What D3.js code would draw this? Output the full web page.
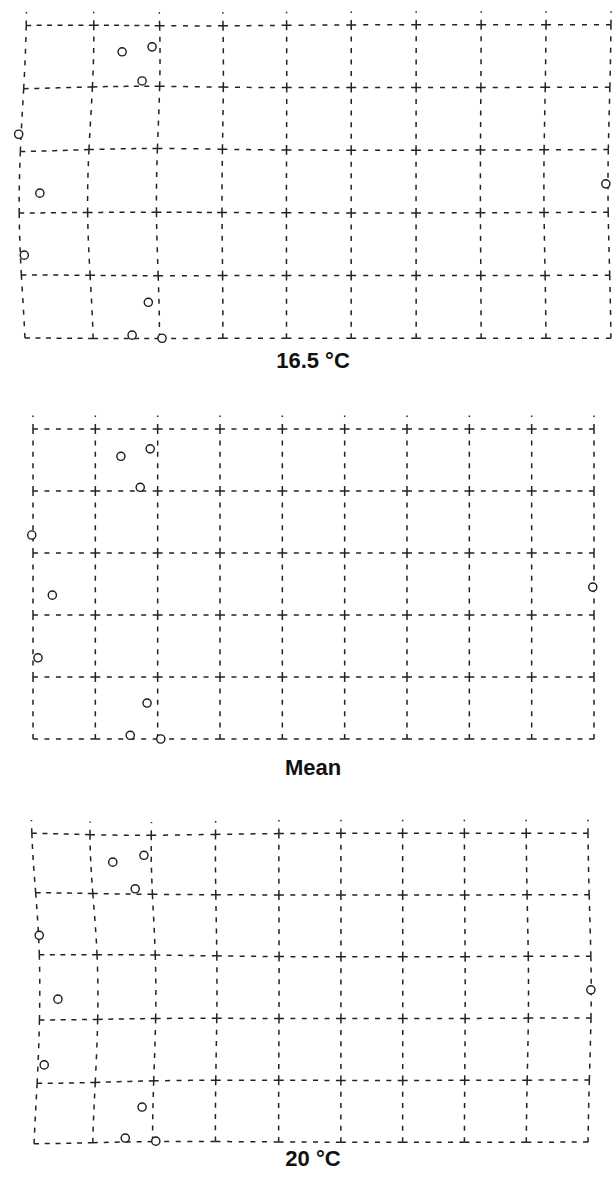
<!DOCTYPE html>
<html>
<head>
<meta charset="utf-8">
<script src="https://cdn.jsdelivr.net/npm/d3@7/dist/d3.min.js"></script>
<style>
  body { margin: 0; background: #fff; }
</style>
</head>
<body>
<script>
// Size of the page
var width = 613;
var height = 1177;

// Landmarks, in grid units of the mean shape (u across, v down)
var meanX = [1.41, 1.88, 1.72, -0.02, 0.31, 0.08, 1.83, 1.56, 2.05, 8.98];
var meanY = [0.44, 0.32, 0.94, 1.71, 2.68, 3.69, 4.42, 4.94, 5.00, 2.55];

var coldX = [1.43, 1.91, 1.75, -0.23, 0.11, -0.14, 1.85, 1.59, 2.07, 9.19];
var coldY = [0.40, 0.32, 0.87, 1.73, 2.68, 3.68, 4.44, 4.97, 5.02, 2.53];

var warmX = [1.28, 1.78, 1.64, 0.10, 0.40, 0.18, 1.75, 1.48, 1.97, 8.95];
var warmY = [0.47, 0.36, 0.90, 1.65, 2.68, 3.74, 4.42, 4.92, 4.97, 2.53];

// Grid lines of the mean shape
var gridX = [0, 1, 2, 3, 4, 5, 6, 7, 8, 9];
var gridY = [0, 1, 2, 3, 4, 5];

var panelLabels = ["16.5 \u00B0C", "Mean", "20 \u00B0C"];
var panelX = [coldX, meanX, warmX];
var panelY = [coldY, meanY, warmY];

// layout
var panelTop = [27, 429, 833];
var labelY = [368, 775, 1166];

var svg = d3.select("body")
  .append("svg")
  .attr("width", width)
  .attr("height", height);

var x = d3.scaleLinear().domain([0, 9]).range([33, 594]);

function solve(A, b) {
  var n = b.length;
  A = A.map(function(r) { return r.slice(); });
  b = b.slice();
  for (var c = 0; c < n; c++) {
    var p = c;
    for (var r = c + 1; r < n; r++) if (Math.abs(A[r][c]) > Math.abs(A[p][c])) p = r;
    var t = A[c]; A[c] = A[p]; A[p] = t;
    var tb = b[c]; b[c] = b[p]; b[p] = tb;
    for (var r = c + 1; r < n; r++) {
      var f = A[r][c] / A[c][c];
      for (var k = c; k < n; k++) A[r][k] -= f * A[c][k];
      b[r] -= f * b[c];
    }
  }
  var out = new Array(n);
  for (var r = n - 1; r >= 0; r--) {
    var s = b[r];
    for (var k = r + 1; k < n; k++) s -= A[r][k] * out[k];
    out[r] = s / A[r][r];
  }
  return out;
}

// straight line fit of target against source
function fit1d(s, t) {
  var ms = d3.mean(s), mt = d3.mean(t);
  var num = d3.sum(s, function(d, i) { return (d - ms) * (t[i] - mt); });
  var den = d3.sum(s, function(d) { return (d - ms) * (d - ms); });
  var b = num / den;
  return [mt - b * ms, b];
}

// warp of the mean grid onto a landmark set:
// scale and shift on each axis plus a smooth local gaussian correction
var sigma = 1.2;
var ridge = 0.25;
function kernel(du, dv) {
  return Math.exp(-(du * du + dv * dv) / (2 * sigma * sigma));
}

function makeWarp(sx, sy, tx, ty) {
  var n = sx.length;
  var fu = fit1d(sx, tx), fv = fit1d(sy, ty);
  function base(u, v) {
    return [fu[0] + fu[1] * u, fv[0] + fv[1] * v];
  }
  var K = [], rx = [], ry = [];
  for (var i = 0; i < n; i++) {
    K.push([]);
    for (var j = 0; j < n; j++) K[i].push(kernel(sx[i] - sx[j], sy[i] - sy[j]) + (i === j ? ridge : 0));
    var f = base(sx[i], sy[i]);
    rx.push(tx[i] - f[0]);
    ry.push(ty[i] - f[1]);
  }
  var wx = solve(K, rx), wy = solve(K, ry);
  return function(u, v) {
    var f = base(u, v);
    for (var i = 0; i < n; i++) {
      var k = kernel(u - sx[i], v - sy[i]);
      f[0] += wx[i] * k;
      f[1] += wy[i] * k;
    }
    return f;
  };
}

var line = d3.line();
var ink = "#222";

panelLabels.forEach(function(label, p) {
  var y = d3.scaleLinear().domain([0, 5]).range([panelTop[p], panelTop[p] + 310]);
  var warp = makeWarp(meanX, meanY, panelX[p], panelY[p]);
  var g = svg.append("g");

  function edge(u0, v0, u1, v1) {
    var pts = d3.range(0, 1.0001, 1 / 10).map(function(t) {
      var w = warp(u0 + (u1 - u0) * t, v0 + (v1 - v0) * t);
      return [x(w[0]), y(w[1])];
    });
    return line(pts);
  }

  var edges = [];
  gridY.forEach(function(v) {
    for (var i = 0; i < gridX.length - 1; i++) edges.push(edge(gridX[i], v, gridX[i + 1], v));
  });
  gridX.forEach(function(u) {
    for (var j = 0; j < gridY.length - 1; j++) edges.push(edge(u, gridY[j], u, gridY[j + 1]));
  });

  g.selectAll(".edge")
    .data(edges)
    .enter()
    .append("path")
    .attr("class", "edge")
    .attr("d", function(d) { return d; })
    .attr("fill", "none")
    .attr("stroke", ink)
    .attr("stroke-width", 1.5)
    .attr("stroke-dasharray", function() {
      // start and end every edge on a dash so the nodes show a cross
      var L = this.getTotalLength();
      var dash = 5;
      var n = Math.max(1, Math.round((L - dash) / 11));
      return dash + "," + ((L - dash) / n - dash);
    });

  // short stubs above the top row
  g.selectAll(".stub")
    .data(gridX)
    .enter()
    .append("path")
    .attr("class", "stub")
    .attr("d", function(u) { return edge(u, 0, u, -0.22); })
    .attr("fill", "none")
    .attr("stroke", ink)
    .attr("stroke-width", 1.5)
    .attr("stroke-dasharray", "5,7,1.5,20");

  // landmarks
  g.selectAll(".mark")
    .data(panelX[p])
    .enter()
    .append("circle")
    .attr("class", "mark")
    .attr("cx", function(d) { return x(d); })
    .attr("cy", function(d, i) { return y(panelY[p][i]); })
    .attr("r", 4.1)
    .attr("fill", "#fff")
    .attr("stroke", "#1a1a1a")
    .attr("stroke-width", 1.4);

  svg.append("text")
    .attr("x", 313)
    .attr("y", labelY[p])
    .attr("text-anchor", "middle")
    .style("font-family", "'Liberation Sans', Arial, sans-serif")
    .style("font-weight", "bold")
    .style("font-size", "22px")
    .style("fill", "#111")
    .text(label);
});
</script>
</body>
</html>
